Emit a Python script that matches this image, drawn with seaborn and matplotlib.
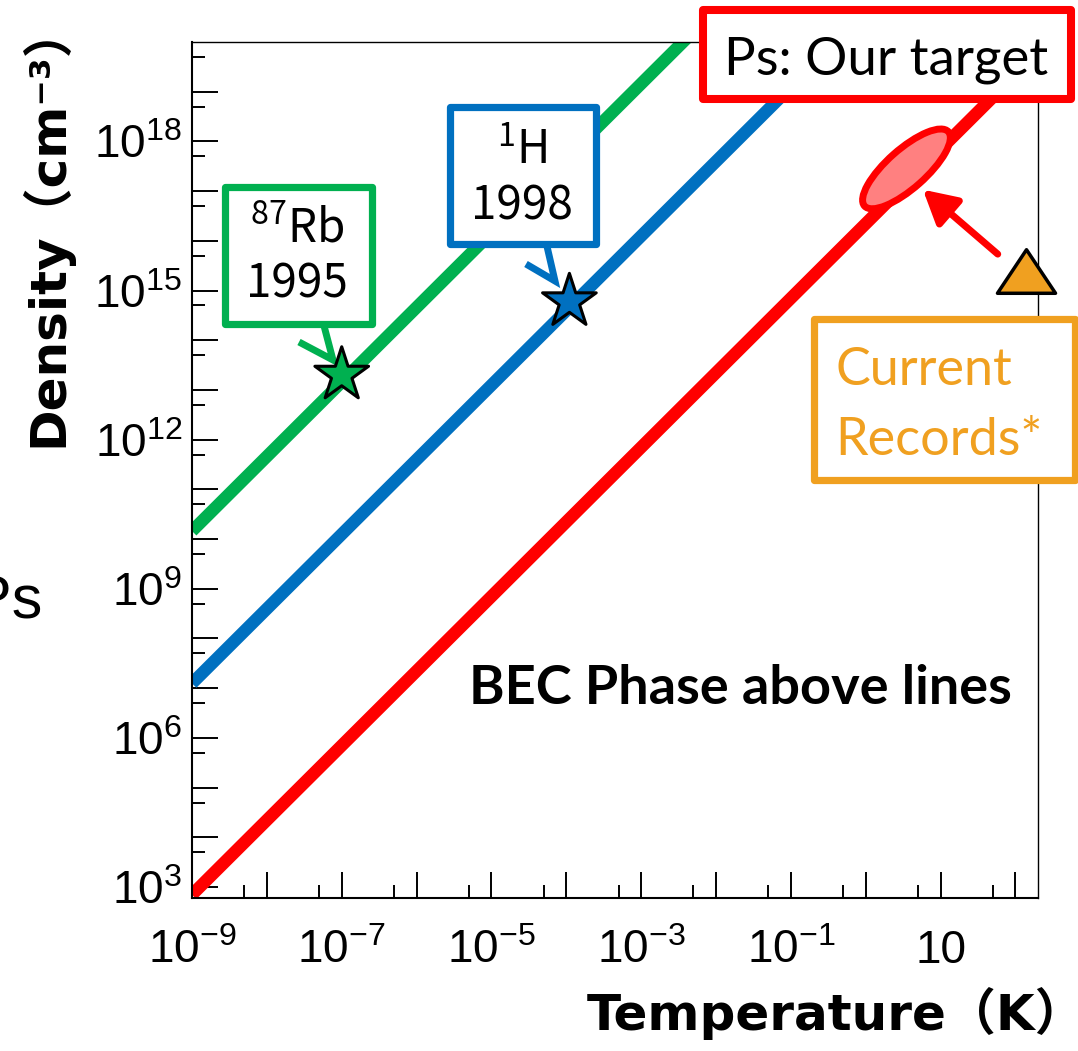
import numpy as np
import pandas as pd
import matplotlib
matplotlib.use("Agg")
import matplotlib.pyplot as plt
from matplotlib import transforms
from matplotlib.patches import Rectangle, Ellipse
from matplotlib.path import Path
from matplotlib.ticker import FixedLocator, FuncFormatter, NullFormatter
import seaborn as sns

# BEC critical density lines (T in K, n in cm^-3)
T_line = [1e-9, 1e3]
n_ps = [7e2, 7e20]
n_h = [1.25e7, 1.25e25]
n_rb = [1.45e10, 1.45e28]
species = ["Ps", "1H", "87Rb"]
line_colors = ["#FF0000", "#0070C0", "#00B050"]

# first condensates
star_names = ["87Rb", "1H"]
star_T = [1.0e-7, 1.1e-4]
star_n = [2.0e13, 6.0e14]
star_colors = ["#00B050", "#0070C0"]

# Ps: current record and the target region
record_T = [140]
record_n = [2.5e15]
target_T = 3.5
target_n = 2.8e17
arrow_tail = (58, 5.4e15)
arrow_head = (5.8, 1.07e17)

x_labeled = [-9, -7, -5, -3, -1, 1]
y_labeled = [3, 6, 9, 12, 15, 18]

RED, BLUE, GREEN, ORANGE = "#FF0000", "#0070C0", "#00B050", "#F0A020"

sns.set_theme(style="white")
plt.rcParams["font.family"] = ["Liberation Sans", "DejaVu Sans"]
plt.rcParams["mathtext.default"] = "regular"
for key in ["text.color", "axes.labelcolor", "xtick.color", "ytick.color", "axes.edgecolor"]:
    plt.rcParams[key] = "black"

W, H = 1078, 1051
fig = plt.figure(figsize=(W / 100, H / 100), dpi=100)
# axes frame in pixels: left 192, right 1038, top 42, bottom 898
ax = fig.add_axes([192 / W, (H - 898) / H, 846 / W, 856 / H])
ax.set(xscale="log", yscale="log")


def px(x, y):
    # pixel position in the picture -> axes fraction
    return ((x - 192) / 846, (898 - y) / 856)


df = pd.DataFrame({
    "T": T_line * 3,
    "n": n_ps + n_h + n_rb,
    "species": np.repeat(species, 2),
})
sns.lineplot(data=df, x="T", y="n", hue="species", palette=dict(zip(species, line_colors)),
             estimator=None, sort=False, linewidth=9, legend=False, ax=ax, zorder=2)
for ln in ax.lines:
    ln.set_solid_capstyle("butt")

sns.scatterplot(x=star_T, y=star_n, hue=star_names, palette=dict(zip(star_names, star_colors)),
                marker="*", s=1650, edgecolor="black", linewidth=2.2, legend=False, ax=ax, zorder=6)

tri = Path([(-1, -0.75), (1, -0.75), (0, 0.75), (-1, -0.75)], closed=True)
ax.scatter(record_T, record_n, marker=tri, s=1750, color=ORANGE, edgecolor="black",
           linewidth=2.5, clip_on=False, zorder=6)

# target ellipse, sized in inches around its data centre
etrans = fig.dpi_scale_trans + transforms.ScaledTranslation(target_T, target_n, ax.transData)
ax.add_patch(Ellipse((0, 0), 1.12, 0.39, angle=41.5, transform=etrans,
                     facecolor="#FF8080", edgecolor=RED, linewidth=5, zorder=4))
ax.annotate("", xy=arrow_head, xytext=arrow_tail,
            arrowprops=dict(arrowstyle="-|>,head_length=0.4,head_width=0.22", mutation_scale=50,
                            color=RED, lw=5, shrinkA=0, shrinkB=0), zorder=5)

ax.set_xlim(1e-9, 2e2)
ax.set_ylim(6e2, 1e20)

xmaj = [10.0 ** e for e in range(-9, 3)]
ymaj = [10.0 ** e for e in range(3, 20)]
ax.xaxis.set_major_locator(FixedLocator(xmaj))
ax.yaxis.set_major_locator(FixedLocator(ymaj))
ax.xaxis.set_minor_locator(FixedLocator([5 * v for v in xmaj]))
ax.yaxis.set_minor_locator(FixedLocator([5 * v for v in [1e2] + ymaj]))
ax.xaxis.set_minor_formatter(NullFormatter())
ax.yaxis.set_minor_formatter(NullFormatter())


def fmt_factory(keep):
    def fmt(v, pos):
        e = int(round(np.log10(v)))
        if e not in keep:
            return ""
        if e == 1:
            return "10"
        return "$10^{%d}$" % e
    return fmt


ax.xaxis.set_major_formatter(FuncFormatter(fmt_factory(x_labeled)))
ax.yaxis.set_major_formatter(FuncFormatter(fmt_factory(y_labeled)))
ax.tick_params(which="both", direction="in", bottom=True, left=True, top=False, right=False,
               width=1.4, colors="black", labelsize=33)
ax.tick_params(which="major", length=18.5)
ax.tick_params(which="minor", length=9.3)
ax.tick_params(axis="x", pad=22)
ax.tick_params(axis="y", pad=7)
for side in ["left", "bottom"]:
    ax.spines[side].set_linewidth(1.5)
for side in ["top", "right"]:
    ax.spines[side].set_linewidth(1.0)
for sp in ax.spines.values():
    sp.set_color("black")
    sp.set_zorder(3)

lab_font = ["DejaVu Sans", "Noto Sans CJK JP"]
ax.set_xlabel("Temperature（K）", family=lab_font, fontweight="bold", fontsize=36,
              ha="left", va="baseline")
ax.xaxis.set_label_coords(*px(587, 1030))
ax.set_ylabel("Density（cm⁻³）", family=lab_font, fontweight="bold", fontsize=36,
              ha="right", va="center")
ax.yaxis.set_label_coords(*px(46, 2))

fig.text(42 / W, (H - 618) / H, "Ps", ha="right", va="baseline", fontsize=44,
         family="Liberation Sans")


def box(x0, y0, x1, y1, color, lw):
    a = px(x0, y1)
    b = px(x1, y0)
    ax.add_patch(Rectangle(a, b[0] - a[0], b[1] - a[1], transform=ax.transAxes, facecolor="white",
                           edgecolor=color, linewidth=lw, joinstyle="round", clip_on=False, zorder=7))


# labels in boxes (pixel layout of the original)
box(703, 10, 1071, 99, RED, 5.8)
ax.text(*px(886, 75), "Ps: Our target", transform=ax.transAxes, ha="center", va="baseline",
        fontsize=38, family="Lato", zorder=8)

box(813.5, 318.5, 1074.5, 479.5, ORANGE, 5.2)
ax.text(*px(835, 385), "Current", transform=ax.transAxes, ha="left", va="baseline",
        fontsize=37.5, family="Lato", color=ORANGE, zorder=8)
ax.text(*px(835, 455), "Records*", transform=ax.transAxes, ha="left", va="baseline",
        fontsize=37.5, family="Lato", color=ORANGE, zorder=8)

cjk = "Noto Sans CJK JP"
box(224.5, 186.5, 371.5, 323.5, GREEN, 5.2)
ax.text(*px(297, 242), "${}^{87}$Rb", transform=ax.transAxes, ha="center", va="baseline",
        fontsize=33, family=cjk, zorder=8)
ax.text(*px(297, 298), "1995", transform=ax.transAxes, ha="center", va="baseline",
        fontsize=33, family=cjk, zorder=8)

box(449.5, 107.5, 595.5, 243.5, BLUE, 5.2)
ax.text(*px(522, 164), "${}^{1}$H", transform=ax.transAxes, ha="center", va="baseline",
        fontsize=33, family=cjk, zorder=8)
ax.text(*px(522, 220), "1998", transform=ax.transAxes, ha="center", va="baseline",
        fontsize=33, family=cjk, zorder=8)

# callout pointers from the boxes to the stars
for pts, col in [([(323, 322), (333, 360), (299, 342)], GREEN),
                 ([(546, 242), (555, 281), (526, 264)], BLUE)]:
    xy = np.array([px(*p) for p in pts])
    ax.plot(xy[:, 0], xy[:, 1], transform=ax.transAxes, color=col, lw=5,
            solid_joinstyle="miter", solid_capstyle="butt", clip_on=False, zorder=5)

ax.text(*px(740, 704), "BEC Phase above lines", transform=ax.transAxes, ha="center",
        va="baseline", fontsize=39, family="Lato", fontweight="bold", zorder=8)

fig.savefig("out.png", dpi=100)
